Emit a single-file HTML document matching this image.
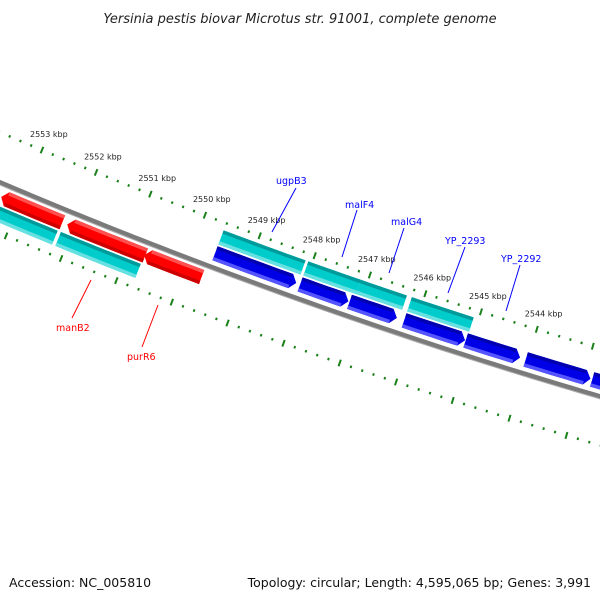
<!DOCTYPE html>
<html><head><meta charset="utf-8"><style>
html,body{margin:0;padding:0;background:#fff;}
svg{display:block;font-family:"DejaVu Sans","Liberation Sans",sans-serif;}
</style></head><body>
<svg id="map" width="600" height="600" viewBox="0 0 600 600">
<text x="300" y="23" text-anchor="middle" font-size="13" font-style="italic" fill="#222">Yersinia pestis biovar Microtus str. 91001, complete genome</text>
<g id="trk"></g>
<g id="ann"></g>
<text x="9" y="587" font-size="12.5" fill="#111">Accession: NC_005810</text>
<text x="591" y="587" font-size="12.5" fill="#111" text-anchor="end">Topology: circular; Length: 4,595,065 bp; Genes: 3,991</text>
</svg>
<script>
const kbpTicks = [2553,2552,2551,2550,2549,2548,2547,2546,2545,2544];
const fwdGenesStart = [2549.61,2548.07,2547.18,2546.20,2545.10,2544.03,2542.85];
const fwdGenesEnd   = [2548.14,2547.20,2546.33,2545.11,2544.13,2542.88,2541.5];
const orfFwdStart = [2549.61,2548.07,2547.12,2546.20];
const orfFwdEnd   = [2548.12,2547.12,2546.29,2545.09];
const revGenesStart = [2553.33,2552.12,2550.72];
const revGenesEnd   = [2552.21,2550.70,2549.68];
const orfRevStart = [2553.8,2552.17];
const orfRevEnd   = [2552.23,2550.72];
const geneLabels = ['ugpB3','malF4','malG4','YP_2293','YP_2292','manB2','purR6'];

const NS='http://www.w3.org/2000/svg';
const trk=document.getElementById('trk'), ann=document.getElementById('ann');
const CX=2111, CY=-4788, R0=5400;
const A2549=Math.atan2(5023,-1851), DA=58.5/5354;
function ang(k){return A2549+(k-2549)*DA;}
function P(k,r){const a=ang(k);return [CX+r*Math.cos(a), CY+r*Math.sin(a)];}
function mk(tag,attrs,parent){const e=document.createElementNS(NS,tag);for(const k in attrs)e.setAttribute(k,attrs[k]);parent.appendChild(e);return e;}
function arcPts(k1,k2,r){const n=Math.max(2,Math.ceil(Math.abs(k2-k1)*6));const out=[];for(let i=0;i<=n;i++){out.push(P(k1+(k2-k1)*i/n,r));}return out;}
function ptsStr(a){return a.map(p=>p[0].toFixed(2)+','+p[1].toFixed(2)).join(' ');}

// backbone
let bb=mk('polyline',{points:ptsStr(arcPts(2557,2538,R0)),fill:'none',stroke:'#7a7a7a','stroke-width':4.5},trk);


let bb2=mk('polyline',{points:ptsStr(arcPts(2557,2538,R0+2.5)),fill:'none',stroke:'#aaaaaa','stroke-width':1},trk);



// ticks
function tickRow(r){
  for(let i=0;i<=100;i++){
    const kk=Math.round((2557-i*0.2)*5)/5;
    const major=Math.abs(kk-Math.round(kk))<0.01;
    const len=major?7:2.5;
    const a=P(kk,r-len/2), b=P(kk,r+len/2);
    const t=mk('line',{x1:a[0],y1:a[1],x2:b[0],y2:b[1],stroke:'#1a801a','stroke-width':2},trk);
    
    
  }
}
tickRow(R0-46); tickRow(R0+47);

// tick labels
kbpTicks.forEach(k=>{
  const [x,y]=P(k,R0-46);
  const t=mk('text',{x:x-12,y:y-13,'font-size':8,fill:'#222'},ann);
  t.textContent=k+' kbp';
  
  
});

// genes
function band(k1,k2,r1,r2,fill,name){
  const pts=arcPts(k1,k2,r1).concat(arcPts(k2,k1,r2));
  const p=mk('polygon',{points:ptsStr(pts),fill:fill},trk);
  
  
}
function gene(ks,ke,r,h,base,top,bot,arrow,name){
  let k1=Math.max(ks,ke), k2=Math.min(ks,ke); // k1 = left (screen), k2 = right
  const ah=0.1, r1=r-h/2, r2=r+h/2;
  let pts;
  if(arrow==='right'){
    pts=arcPts(k1,k2+ah,r1).concat([P(k2,r)]).concat(arcPts(k2+ah,k1,r2));
  } else if(arrow==='left'){
    pts=[P(k1,r)].concat(arcPts(k1-ah,k2,r1)).concat(arcPts(k2,k1-ah,r2));
  } else {
    pts=arcPts(k1,k2,r1).concat(arcPts(k2,k1,r2));
  }
  const p=mk('polygon',{points:ptsStr(pts),fill:base},trk);
  
  
  const a1=arrow==='left'?k1-ah:k1, a2=arrow==='right'?k2+ah:k2;
  band(a1,a2,r1,r1+3.5,top,name+'-top-shade');
  band(a1,a2,r2-3.5,r2,bot,name+'-bottom-shade');
}
orfFwdStart.forEach((s,i)=>gene(s,orfFwdEnd[i],R0-31,15,'#00cccc','#009a9a','#66e0e0','none','orf-forward'));
fwdGenesStart.forEach((s,i)=>gene(s,fwdGenesEnd[i],R0-14,15,'#0000e6','#0000b0','#5555ff','right','gene-forward'));
revGenesStart.forEach((s,i)=>gene(s,revGenesEnd[i],R0+13,15,'#ff0000','#ff5050','#cc0000','left','gene-reverse'));
orfRevStart.forEach((s,i)=>gene(s,orfRevEnd[i],R0+30,15,'#00cccc','#009a9a','#66e0e0','none','orf-reverse'));

// gene labels
const labelPos=[[276,184,296,188,272,232,'#0000ff'],[345,208,357,210,342,257,'#0000ff'],[391,225,404,228,389,273,'#0000ff'],
 [445,244,465,247,448,293,'#0000ff'],[501,262,520,265,506,311,'#0000ff'],[56,331,91,280,72,318,'#ff0000'],[127,360,158,305,142,347,'#ff0000']];
geneLabels.forEach((g,i)=>{
  const p=labelPos[i];
  const l=mk('line',{x1:p[2],y1:p[3],x2:p[4],y2:p[5],stroke:p[6],'stroke-width':1},ann);
  
  
  const t=mk('text',{x:p[0],y:p[1],'font-size':9.5,fill:p[6]},ann);
  t.textContent=g;
  
  
});
</script>
</body></html>
